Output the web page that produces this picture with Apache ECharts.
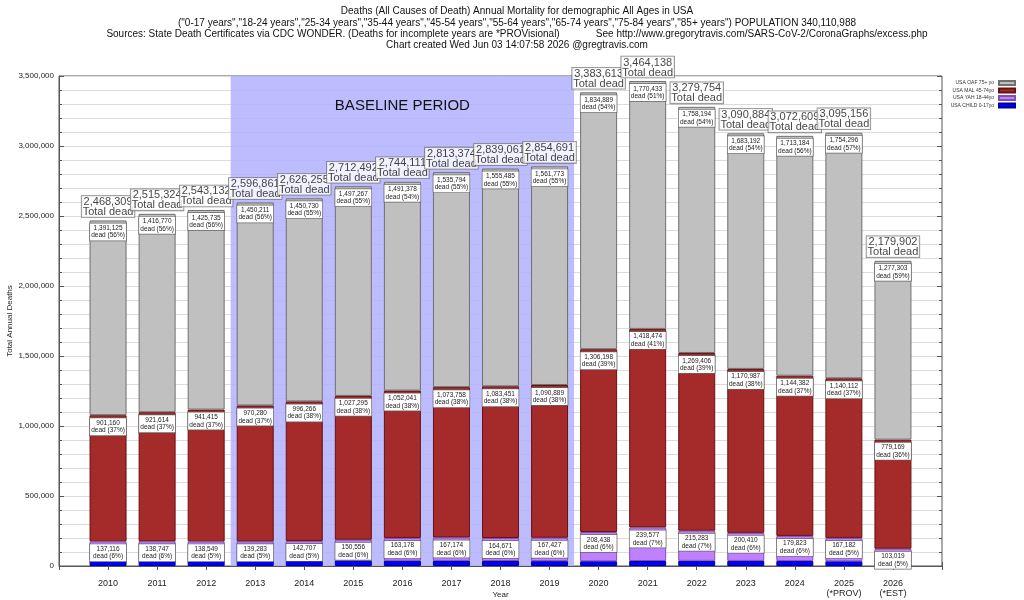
<!DOCTYPE html>
<html>
<head>
<meta charset="utf-8">
<title>USA annual deaths by age group</title>
<script src="https://cdn.jsdelivr.net/npm/echarts@6/dist/echarts.min.js"></script>
<style>
  html, body { margin: 0; padding: 0; background: #fff; }
  #chart { width: 1024px; height: 600px; }
</style>
</head>
<body>
<div id="chart"></div>
<script>
// 数据：每年各年龄段死亡人数
const years = [2010, 2011, 2012, 2013, 2014, 2015, 2016, 2017, 2018, 2019, 2020, 2021, 2022, 2023, 2024, 2025, 2026];
const yearLabels = ['2010', '2011', '2012', '2013', '2014', '2015', '2016', '2017', '2018', '2019',
    '2020', '2021', '2022', '2023', '2024', '2025\n(*PROV)', '2026\n(*EST)'];
const totalDead = [2468309, 2515324, 2543132, 2596861, 2626255, 2712492, 2744111, 2813374, 2839061, 2854691,
    3383613, 3464138, 3279754, 3090884, 3072609, 3095156, 2179902];
const oafDead = [1391125, 1416770, 1425735, 1450211, 1450730, 1497267, 1491378, 1535794, 1555485, 1561773,
    1834889, 1770433, 1758194, 1683192, 1713184, 1754296, 1277303];
const malDead = [901160, 921614, 941415, 970280, 996266, 1027295, 1052041, 1073758, 1083451, 1090889,
    1306198, 1418474, 1269406, 1170987, 1144382, 1140112, 779169];
const yahDead = [137116, 138747, 138549, 139283, 142707, 150556, 163178, 167174, 164671, 167427,
    208438, 239577, 215283, 200410, 179823, 167182, 103019];
const childDead = [38908, 38193, 37433, 37087, 36552, 37374, 37514, 36648, 35454, 34602,
    34088, 35654, 36871, 36295, 35220, 33566, 20411];
const baselineStart = 2013, baselineEnd = 2019;

const FONT = '"Liberation Sans", Arial, sans-serif';
const fmt = (v) => v.toLocaleString('en-US');

// 类目轴两端各留一个空位，柱子居中于年份刻度
const cats = [''].concat(yearLabels, ['']);
const padded = (arr) => ['-'].concat(arr, ['-']);

// 小标签：数值 + 百分比
const segLabel = {
    show: true,
    position: 'insideTop',
    distance: 3,
    fontFamily: FONT,
    fontSize: 6.5,
    lineHeight: 7.5,
    color: '#222',
    backgroundColor: '#fff',
    borderColor: '#666',
    borderWidth: 0.7,
    padding: [1, 2],
    width: 32,
    formatter: (p) => fmt(p.value) + '\ndead (' + Math.round(p.value / totalDead[p.dataIndex - 1] * 100) + '%)'
};

const barSeries = (name, arr, color, border, withLabel) => ({
    name,
    type: 'bar',
    stack: 'dead',
    barWidth: 37,
    data: padded(arr),
    itemStyle: { color, borderColor: border, borderWidth: 1 },
    label: withLabel ? segLabel : { show: false },
    emphasis: { disabled: true }
});

const chart = echarts.init(document.getElementById('chart'));

const option = {
    animation: false,
    textStyle: { fontFamily: FONT },
    title: {
        text: 'Deaths (All Causes of Death) Annual Mortality for demographic All Ages in USA\n' +
            '("0-17 years","18-24 years","25-34 years","35-44 years","45-54 years","55-64 years","65-74 years","75-84 years","85+ years") POPULATION 340,110,988\n' +
            'Sources: State Death Certificates via CDC WONDER. (Deaths for incomplete years are *PROVisional)             See http://www.gregorytravis.com/SARS-CoV-2/CoronaGraphs/excess.php\n' +
            'Chart created Wed Jun 03 14:07:58 2026 @gregtravis.com',
        left: 512,
        top: 1,
        textAlign: 'center',
        textStyle: { fontFamily: FONT, fontSize: 10, lineHeight: 11.3, fontWeight: 'normal', color: '#111' }
    },
    legend: {
        data: ['USA OAF 75+ yo', 'USA MAL 45-74yo', 'USA YAH 18-44yo', 'USA CHILD 0-17yo'],
        orient: 'vertical',
        align: 'right',
        right: 3,
        top: 75,
        itemWidth: 16,
        itemHeight: 4,
        itemGap: 1.5,
        icon: 'rect',
        textStyle: { fontFamily: FONT, fontSize: 5, color: '#333' }
    },
    grid: {
        left: 59, right: 82, top: 76, bottom: 34,
        containLabel: false,
        outerBoundsMode: 'none',
        show: true, borderColor: '#555', borderWidth: 1
    },
    xAxis: [{
        type: 'category',
        data: cats,
        boundaryGap: false,
        name: 'Year', nameLocation: 'middle', nameGap: 25,
        nameMoveOverlap: false,
        nameTextStyle: { fontFamily: FONT, fontSize: 8, color: '#222' },
        axisLine: { show: true, lineStyle: { color: '#555' } },
        axisTick: { show: true, inside: true, length: 4, interval: 0, lineStyle: { color: '#555' } },
        splitLine: { show: false },
        axisLabel: {
            interval: 0, margin: 13, fontSize: 9, lineHeight: 10, color: '#222', fontFamily: FONT
        }
    }, {
        // 顶部刻度 + 基准期阴影所用的数值轴
        type: 'value', position: 'top',
        min: 2009, max: 2027, interval: 1,
        axisLine: { show: false },
        axisTick: { show: true, inside: true, length: 4, lineStyle: { color: '#555' } },
        axisLabel: { show: false },
        splitLine: { show: false }
    }],
    yAxis: [{
        type: 'value',
        min: 0, max: 3500000, interval: 500000,
        name: 'Total Annual Deaths', nameLocation: 'middle', nameGap: 45, nameRotate: 90,
        nameMoveOverlap: false,
        nameTextStyle: { fontFamily: FONT, fontSize: 8, color: '#222' },
        axisLine: { show: true, lineStyle: { color: '#555' } },
        axisTick: { show: true, inside: true, length: 5, lineStyle: { color: '#555' } },
        minorTick: { show: true, splitNumber: 5, length: 3, lineStyle: { color: '#555' } },
        splitLine: { show: true, lineStyle: { color: '#dcdcdc', width: 1 } },
        minorSplitLine: { show: true, lineStyle: { color: '#dcdcdc', width: 1 } },
        axisLabel: { margin: 5, fontSize: 8, color: '#222', fontFamily: FONT, formatter: (v) => fmt(v) }
    }, {
        type: 'value', position: 'right',
        min: 0, max: 3500000, interval: 500000,
        axisLine: { show: false },
        axisTick: { show: true, inside: true, length: 5, lineStyle: { color: '#555' } },
        minorTick: { show: true, splitNumber: 5, length: 3, lineStyle: { color: '#555' } },
        axisLabel: { show: false },
        splitLine: { show: false }
    }],
    series: [
        barSeries('USA CHILD 0-17yo', childDead, '#0000ff', '#0000a0', false),
        barSeries('USA YAH 18-44yo', yahDead, '#c080ff', '#8050b0', true),
        barSeries('USA MAL 45-74yo', malDead, '#a52a2a', '#6a1010', true),
        barSeries('USA OAF 75+ yo', oafDead, '#c0c0c0', '#707070', true),
        {
            // 总死亡人数标签 + 基准期
            name: 'total',
            type: 'scatter',
            xAxisIndex: 1,
            data: totalDead.map((v, i) => [years[i], v]),
            symbolSize: 1,
            itemStyle: { color: 'rgba(0,0,0,0)' },
            z: 10,
            silent: true,
            label: {
                show: true,
                position: 'top',
                distance: 3,
                fontFamily: FONT,
                fontSize: 11,
                lineHeight: 10,
                color: '#111',
                backgroundColor: '#fff',
                borderColor: '#666',
                borderWidth: 0.8,
                padding: [1, 1, 0, 1],
                formatter: (p) => fmt(p.value[1]) + '\nTotal dead'
            },
            markArea: {
                silent: true,
                z: 1,
                itemStyle: { color: 'rgba(176,176,255,0.85)' },
                label: {
                    show: true, position: 'insideTop', distance: 22,
                    fontFamily: FONT, fontSize: 15, color: '#111'
                },
                data: [[{ name: 'BASELINE PERIOD', xAxis: baselineStart - 0.5, yAxis: 3500000 },
                        { xAxis: baselineEnd + 0.5, yAxis: 0 }]]
            }
        }
    ]
};

chart.setOption(option);
</script>
</body>
</html>
